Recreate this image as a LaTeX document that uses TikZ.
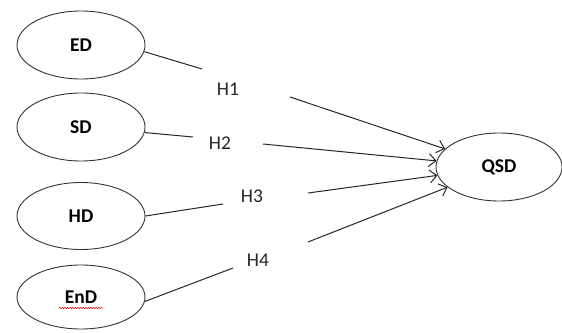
\documentclass[tikz,border=0pt]{standalone}
\usepackage{fontspec}
\setmainfont{Carlito}
\usetikzlibrary{shapes.geometric,arrows.meta,decorations.pathmorphing}
\begin{document}
\begin{tikzpicture}[x=1pt,y=-1pt,
  var/.style={ellipse,draw=black!80,line width=0.9pt,minimum width=128pt,minimum height=68pt,inner sep=0pt,font=\fontsize{19.5}{19.5}\selectfont\bfseries},
  hyp/.style={inner sep=0pt,font=\fontsize{19.5}{19.5}\selectfont,text=black!85},
  link/.style={draw=black!85,line width=1pt},
  arr/.style={link,-{Straight Barb[length=7pt,width=13pt,line width=1pt]}}]
\useasboundingbox (0,0) rectangle (562,332);
\node[var] (ED) at (81,45) {ED};
\node[var] (SD) at (81,127) {SD};
\node[var,minimum height=67pt] (HD) at (81,216) {HD};
\node[var,minimum height=64pt] (EnD) at (81,297) {EnD};
\node[var,minimum width=126pt] (QSD) at (499,167) {QSD};
\node[hyp] (H1) at (228,89) {H1};
\node[hyp] (H2) at (220,143) {H2};
\node[hyp] (H3) at (252,196) {H3};
\node[hyp] (H4) at (258,260) {H4};
\coordinate (e1) at (202,69);
\coordinate (e2) at (193,137);
\coordinate (e3) at (223,204);
\coordinate (e4) at (233,268);
\coordinate (s1) at (290,97);
\coordinate (s2) at (263,144);
\coordinate (s3) at (308,193);
\coordinate (s4) at (308,242);
\draw[link] (ED.-6) -- (e1);
\draw[link] (SD.-5) -- (e2);
\draw[link] (HD.east) -- (e3);
\draw[link] (EnD.-4) -- (e4);
\draw[arr] (s1) -- (QSD);
\draw[arr] (s2) -- (QSD);
\draw[arr] (s3) -- (QSD);
\draw[arr] (s4) -- (QSD);
\draw[red,line width=0.5pt,decorate,decoration={snake,amplitude=0.7pt,segment length=2.6pt}] (EnD) ++(-22,11) -- ++(44,0);
\end{tikzpicture}
\end{document}
